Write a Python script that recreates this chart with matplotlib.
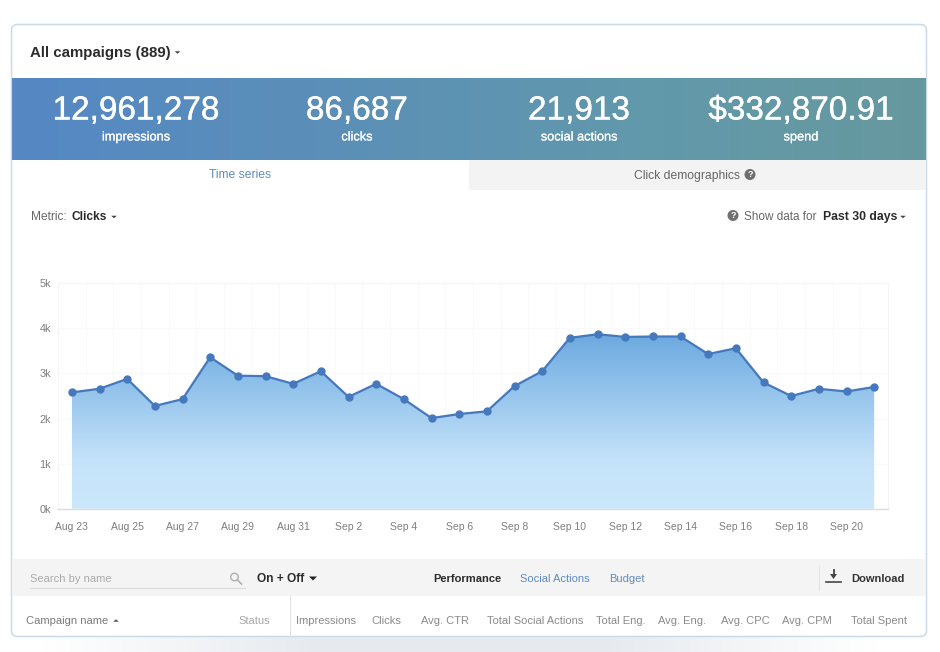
import numpy as np
import matplotlib
matplotlib.use('Agg')
import matplotlib.pyplot as plt
import matplotlib.patheffects as pe
from matplotlib.colors import LinearSegmentedColormap
from matplotlib.patches import FancyBboxPatch, Rectangle, Circle, Polygon

plt.rcParams['font.family'] = ['Liberation Sans', 'DejaVu Sans']

# Data
days = ['Aug 23', 'Aug 24', 'Aug 25', 'Aug 26', 'Aug 27', 'Aug 28', 'Aug 29', 'Aug 30',
        'Aug 31', 'Sep 1', 'Sep 2', 'Sep 3', 'Sep 4', 'Sep 5', 'Sep 6', 'Sep 7', 'Sep 8',
        'Sep 9', 'Sep 10', 'Sep 11', 'Sep 12', 'Sep 13', 'Sep 14', 'Sep 15', 'Sep 16',
        'Sep 17', 'Sep 18', 'Sep 19', 'Sep 20', 'Sep 21']
clicks = [2580, 2660, 2880, 2280, 2430, 3360, 2950, 2940, 2770, 3050, 2480, 2770, 2430,
          2010, 2100, 2160, 2720, 3050, 3790, 3870, 3810, 3820, 3820, 3430, 3560, 2800,
          2500, 2660, 2600, 2700]
y_ticks = [0, 1000, 2000, 3000, 4000, 5000]
kpi_values = ['12,961,278', '86,687', '21,913', '$332,870.91']
kpi_names = ['impressions', 'clicks', 'social actions', 'spend']
kpi_x = [136, 357, 579, 801]
table_cols = ['Impressions', 'Clicks', 'Avg. CTR', 'Total Social Actions', 'Total Eng.',
              'Avg. Eng.', 'Avg. CPC', 'Avg. CPM', 'Total Spent']
table_x = [326, 386, 445, 535, 621, 682, 745, 807, 879]

W, H = 940, 652
GREY = '#7d7d7d'
DARK = '#2b2b2b'
LINK = '#5f8ac2'

fig = plt.figure(figsize=(W / 100, H / 100), dpi=100)
page = fig.add_axes([0, 0, 1, 1])
page.set_xlim(0, W)
page.set_ylim(H, 0)
page.axis('off')


def label(x, y, s, size=8, color=GREY, ha='center', weight='normal', zorder=5, thick=0):
    t = page.text(x, y + 1, s, fontsize=size, color=color, ha=ha, va='center',
                  fontweight=weight, zorder=zorder)
    if thick:
        t.set_path_effects([pe.withStroke(linewidth=thick, foreground=color)])


def caret(x, y, w=3, h=3, color='#444444'):
    page.add_patch(Polygon([(x - w, y - h / 2), (x + w, y - h / 2), (x, y + h / 2)],
                           closed=True, fc=color, ec='none', zorder=5))


def help_icon(x, y):
    page.add_patch(Circle((x, y), 5.5, fc='#6f6f6f', ec='none', zorder=5))
    label(x, y - 1, '?', size=6.5, color='white', weight='bold', zorder=6)


# soft shadow under the card
shadow = LinearSegmentedColormap.from_list('s', ['#ffffff', '#e6eaee', '#e6eaee', '#ffffff'])
page.imshow(np.linspace(0, 1, 256).reshape(1, -1), extent=[40, 880, 652, 630], cmap=shadow,
            aspect='auto', zorder=0)
page.set_xlim(0, W)
page.set_ylim(H, 0)

# card
page.add_patch(FancyBboxPatch((11.5, 24.5), 915, 612, boxstyle='round,pad=0,rounding_size=6',
                              fc='white', ec='#cbdae5', lw=1.1, zorder=1))

# kpi band
band = LinearSegmentedColormap.from_list('b', ['#5588c4', '#5b8fb8', '#6198ac', '#66999e'])
page.imshow(np.linspace(0, 1, 256).reshape(1, -1), extent=[12, 926, 160, 78], cmap=band,
            aspect='auto', zorder=2)
page.set_xlim(0, W)
page.set_ylim(H, 0)
for x, val, name in zip(kpi_x, kpi_values, kpi_names):
    label(x, 110, val, size=24, color='white', thick=0.25)
    label(x, 136.5, name, size=9.2, color='white', thick=0.1)

label(30.5, 51.5, 'All campaigns (889)', size=10.8, color=DARK, ha='left', weight='bold')
caret(177.5, 52.5, w=2.8, h=2.5)

# tabs
page.add_patch(Rectangle((469, 160), 457, 30, fc='#f3f3f4', ec='none', zorder=2))
label(240, 173.5, 'Time series', size=8.7, color=LINK)
label(686.5, 174.5, 'Click demographics', size=8.7, color='#666666')
help_icon(750, 174.5)

# metric row
label(30.5, 216, 'Metric:', size=8.6, color='#666666', ha='left')
label(71.5, 216, 'Clicks', size=8.6, color=DARK, ha='left', weight='bold')
caret(114, 217, w=2.8, h=2.5)
help_icon(733, 215.5)
label(743.5, 216, 'Show data for', size=8.5, color='#666666', ha='left')
label(823, 216, 'Past 30 days', size=8.8, color=DARK, ha='left', weight='bold')
caret(903, 217, w=2.8, h=2.5)

# chart
left, right, top, bottom = 58, 888, 283.3, 508.7
ax = fig.add_axes([left / W, 1 - bottom / H, (right - left) / W, (bottom - top) / H], zorder=3)
ax.patch.set_alpha(0)
x = np.arange(len(days))
ax.set_xlim(-0.5, len(days) - 0.5)
ax.set_ylim(0, 5000)

fill = ax.fill_between(x, clicks, 0, color='none')
grad = LinearSegmentedColormap.from_list('g', [(0, '#cbe8fc'), (0.22, '#c4e2f9'), (0.6, '#88bce8'),
                                               (0.78, '#6ba8de'), (1, '#6ba8de')])
img = ax.imshow(np.linspace(1, 0, 256).reshape(-1, 1), extent=[x[0], x[-1], 0, 5000], cmap=grad,
                aspect='auto', zorder=2)
img.set_clip_path(fill.get_paths()[0], transform=ax.transData)
ax.set_xlim(-0.5, len(days) - 0.5)
ax.set_ylim(0, 5000)
ax.plot(x, clicks, color='#4678bd', lw=1.6, marker='o', ms=5, zorder=3)

ax.set_xticks(x[::2])
ax.set_xticklabels(days[::2])
ax.set_xticks(x[:-1] + 0.5, minor=True)
ax.set_yticks(y_ticks)
ax.set_yticklabels([f'{v // 1000}k' for v in y_ticks])
ax.tick_params(which='both', length=0)
ax.tick_params(axis='x', labelsize=7.5, labelcolor=GREY, pad=9.5)
ax.tick_params(axis='y', labelsize=7.8, labelcolor=GREY, pad=5)
ax.grid(True, which='minor', axis='x', color='#f8f9fa', lw=0.8, zorder=0)
ax.grid(True, which='major', axis='y', color='#f8f9fa', lw=0.8, zorder=0)
ax.set_axisbelow(True)
for side in ['top', 'right', 'left']:
    ax.spines[side].set_color('#f4f5f6')
    ax.spines[side].set_linewidth(0.8)
ax.spines['bottom'].set_color('#d5dfe8')
ax.spines['bottom'].set_linewidth(1)

# toolbar
page.add_patch(Rectangle((12, 559), 914, 37, fc='#f4f4f4', ec='none', zorder=2))
label(30.5, 577.5, 'Search by name', size=8, color='#aaaaaa', ha='left')
page.plot([30, 245], [587.5, 587.5], color='#dcdcdc', lw=0.8, zorder=5)
page.add_patch(Circle((234.5, 577), 3.8, fc='none', ec='#b0b0b0', lw=1, zorder=5))
page.plot([237.5, 241.5], [580, 584], color='#b0b0b0', lw=1.2, zorder=5)
label(257, 577.5, 'On + Off', size=8.6, color=DARK, ha='left', weight='bold')
caret(313, 578.5, w=4, h=4, color='#222222')
label(467, 577.5, 'Performance', size=8, color=DARK, weight='bold')
label(555, 577.5, 'Social Actions', size=8, color=LINK)
label(627, 577.5, 'Budget', size=8, color=LINK)
page.plot([819, 819], [566, 590], color='#e2e2e2', lw=0.8, zorder=5)
page.plot([826, 841], [582, 582], color='#444444', lw=1.2, zorder=5)
page.add_patch(Polygon([(830, 574), (837, 574), (833.5, 579)], closed=True, fc='#444444',
                       ec='none', zorder=5))
page.plot([833.5, 833.5], [569.5, 575], color='#444444', lw=1.3, zorder=5)
label(851, 577.5, 'Download', size=8, color='#333333', ha='left', weight='bold')

# table header
page.plot([289.5, 289.5], [596, 636], color='#e2e2e2', lw=0.8, zorder=5)
label(26, 620.5, 'Campaign name', size=8, color='#7a7a7a', ha='left')
caret(116, 620.5, w=2.8, h=-2.5, color='#555555')
label(254, 620.5, 'Status', size=8, color='#a5a5a5')
for cx, col in zip(table_x, table_cols):
    label(cx, 620.5, col, size=8, color='#8a8a8a')

fig.savefig('out.png', dpi=100)
